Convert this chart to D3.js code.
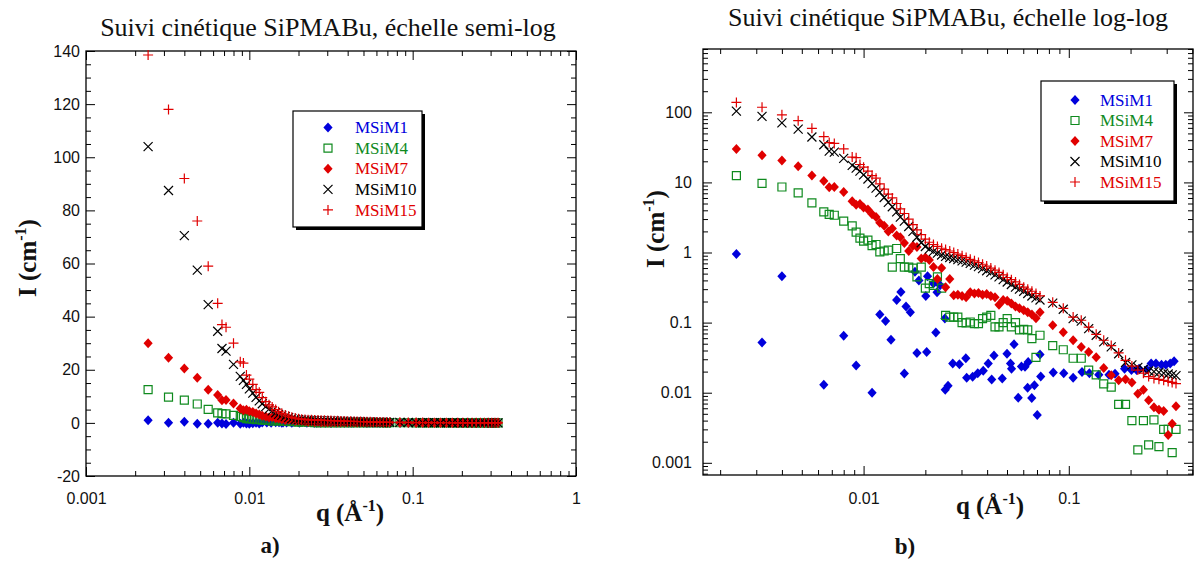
<!DOCTYPE html>
<html>
<head>
<meta charset="utf-8">
<script src="https://cdn.jsdelivr.net/npm/d3@7"></script>
<style>
  body { margin: 0; background: #fff; }
  svg { display: block; }
  .tick text { font-family: "Liberation Sans", Arial, sans-serif; font-size: 16px; fill: #111; }
</style>
</head>
<body>
<svg id="fig" width="1196" height="563"></svg>
<script>
// Scattering vector q (Å^-1) shared by MSiM4, MSiM7, MSiM10, MSiM15
const q = [0.0024, 0.0032, 0.0040, 0.0048, 0.0056, 0.0064, 0.0068, 0.0072, 0.0080, 0.0088, 0.0092,
  0.0096, 0.0100, 0.0105, 0.0110, 0.0115, 0.0120, 0.0126, 0.0132, 0.0138, 0.0145,
  0.0151, 0.0158, 0.0166, 0.0174, 0.0182, 0.0191, 0.0200, 0.0209, 0.0219, 0.0229,
  0.0240, 0.0251, 0.0263, 0.0275, 0.0288, 0.0302, 0.0316, 0.0331, 0.0347, 0.0363,
  0.0380, 0.0398, 0.0417, 0.0437, 0.0457, 0.0479, 0.0501, 0.0525, 0.0550, 0.0575,
  0.0603, 0.0631, 0.0661, 0.0692, 0.0724,
  0.0835, 0.094, 0.105, 0.115, 0.125, 0.136, 0.148, 0.161, 0.175, 0.189,
  0.203, 0.217, 0.231, 0.245, 0.260, 0.275, 0.290, 0.305, 0.319, 0.333];

// Intensities I (cm^-1)
const msim4 = [12.5, 9.7, 8.6, 7.1, 5.1, 3.8, 3.5, 3.4, 2.8, 2.4, 1.95,
  1.6, 1.45, 1.5, 1.25, 1.3, 1.02, 1.05, 1.08, 0.62, 1.14,
  0.82, 0.62, 0.62, 0.6, 0.45, 0.62, 0.31, 0.36, 0.34, 0.45,
  0.31, 0.127, 0.12, 0.12, 0.12, 0.10, 0.099, 0.102, 0.097, 0.097,
  0.114, 0.12, 0.127, 0.087, 0.087, 0.10, 0.114, 0.087, 0.10, 0.079,
  0.08, 0.079, 0.059, 0.032, 0.066,
  0.047, 0.041, 0.031, 0.031, 0.021, 0.018, 0.0134, 0.012, 0.0068, 0.0068,
  0.004, 0.00153, 0.004, 0.0018, 0.0041, 0.0017, 0.003, 0.003, 0.0014, 0.003];

const msim7 = [30, 24.5, 20.5, 17, 12.5, 10.5, 8.5, 8.6, 7.3, 5.4, 4.8,
  4.9, 4.4, 4.1, 3.5, 3.2, 2.65, 2.4, 2.0, 2.2, 1.75,
  1.65, 1.37, 1.05, 1.25, 1.2, 0.82, 0.85, 0.78, 0.62, 0.42,
  0.6, 0.32, 0.42, 0.245, 0.25, 0.24, 0.23, 0.27, 0.26, 0.265,
  0.25, 0.255, 0.24, 0.23, 0.18, 0.21, 0.205, 0.187, 0.17, 0.16,
  0.15, 0.14, 0.13, 0.115, 0.14,
  0.092, 0.073, 0.056, 0.045, 0.038, 0.032, 0.0225, 0.0177, 0.015, 0.0155,
  0.014, 0.0097, 0.011, 0.0078, 0.0062, 0.0057, 0.0055, 0.0025, 0.0036, 0.0064];

const msim10 = [104, 87.5, 70.5, 57.5, 44.5, 34.5, 28.0, 27.0, 22.0, 17.5, 16.0,
  14.5, 12.8, 11.2, 9.6, 8.3, 7.2, 6.1, 5.2, 4.5, 3.8,
  3.2, 2.8, 2.35, 2.0, 1.65, 1.38, 1.22, 1.12, 1.04, 0.98,
  0.92, 0.88, 0.85, 0.82, 0.79, 0.76, 0.73, 0.70, 0.66, 0.63,
  0.59, 0.55, 0.52, 0.48, 0.45, 0.41, 0.38, 0.35, 0.32, 0.30,
  0.28, 0.26, 0.24, 0.225, 0.21,
  0.19, 0.155, 0.114, 0.105, 0.082, 0.066, 0.053, 0.045, 0.036, 0.027,
  0.025, 0.023, 0.0215, 0.0205, 0.020, 0.0195, 0.019, 0.0185, 0.018, 0.0175];

const msim15 = [138.5, 118, 92, 76, 59, 45, 37, 36, 30, 23, 22.5,
  18, 16.5, 14.5, 12.5, 11.5, 9.5, 8.0, 6.8, 6.0, 5.0,
  4.2, 3.6, 3.0, 2.5, 2.1, 1.8, 1.55, 1.4, 1.3, 1.22,
  1.15, 1.1, 1.05, 1.0, 0.95, 0.9, 0.85, 0.8, 0.76, 0.72,
  0.68, 0.64, 0.6, 0.56, 0.52, 0.48, 0.44, 0.41, 0.38, 0.35,
  0.32, 0.30, 0.28, 0.26, 0.24,
  0.195, 0.16, 0.12, 0.108, 0.086, 0.068, 0.056, 0.047, 0.037, 0.029,
  0.024, 0.021, 0.019, 0.017, 0.016, 0.0155, 0.015, 0.0145, 0.014, 0.0135];

// MSiM1 has its own q list; non-positive intensities only appear on the semi-log plot
const qM1 = [0.0024, 0.0032, 0.0040, 0.0048, 0.0056, 0.0064, 0.0068, 0.0072, 0.0080, 0.0088,
  0.0092, 0.0096, 0.0100, 0.0105, 0.0110, 0.0115, 0.0120, 0.0128, 0.0136, 0.0145,
  0.0152, 0.0158, 0.0161, 0.0169, 0.0178, 0.0182, 0.0186, 0.0201, 0.0203, 0.0205,
  0.0219, 0.0225, 0.0228, 0.0236, 0.0249, 0.0250, 0.0258, 0.0272, 0.0293, 0.0315,
  0.0318, 0.0340, 0.0360, 0.0383, 0.0405, 0.0421, 0.0432, 0.0474, 0.0500, 0.0520,
  0.0526, 0.0541, 0.0567, 0.0588, 0.0612, 0.0630, 0.0634, 0.0660, 0.0680, 0.0702,
  0.0724, 0.0730, 0.0840, 0.0945, 0.105, 0.116, 0.126, 0.140, 0.157, 0.168,
  0.187, 0.202, 0.214, 0.220, 0.240, 0.252, 0.266, 0.283, 0.297, 0.312, 0.326];
const msim1 = [0.95, 0.052, 0.46, -0.3, -0.35, 0.013, -0.2, -0.4, 0.065, -0.3,
  0.0245, -0.25, -0.3, -0.15, 0.010, -0.2, 0.13, 0.105, 0.057, 0.21,
  0.274, 0.0188, 0.17, 0.14, 0.53, 0.037, 0.40, 0.24, 0.038, 0.46,
  0.36, 0.072, 0.27, 0.34, 0.114, 0.011, 0.0126, 0.026, 0.0254, 0.031,
  0.0163, 0.0169, 0.019, 0.0205, 0.026, 0.0154, 0.034, 0.0159, 0.036, 0.026,
  0.022, 0.049, 0.0085, 0.0237, 0.0234, 0.0118, 0.0274, 0.0084, 0.0128, 0.0048,
  0.035, 0.017, 0.0195, 0.019, 0.0164, 0.0197, 0.019, 0.018, 0.018, 0.0186,
  0.0219, 0.021, 0.021, 0.022, 0.0214, 0.026, 0.026, 0.025, 0.025, 0.026, 0.028];

const seriesNames = ["MSiM1", "MSiM4", "MSiM7", "MSiM10", "MSiM15"];
const seriesColors = ["#0000dc", "#0f8a1e", "#e00000", "#000000", "#e00000"];
const seriesShapes = ["diamond", "square", "diamond", "cross", "plus"];

const semiXTicks = [0.001, 0.01, 0.1, 1];
const semiYTicks = [-20, 0, 20, 40, 60, 80, 100, 120, 140];
const logXTicks = [0.01, 0.1];
const logYTicks = [0.001, 0.01, 0.1, 1, 10, 100];

const series = [
  { q: qM1, I: msim1 },
  { q: q, I: msim4 },
  { q: q, I: msim7 },
  { q: q, I: msim10 },
  { q: q, I: msim15 }
].map((s, k) => ({
  name: seriesNames[k], color: seriesColors[k], shape: seriesShapes[k],
  points: s.q.map((v, i) => ({ q: v, I: s.I[i] }))
}));

const svg = d3.select("#fig");

function markerPath(shape) {
  switch (shape) {
    case "diamond": return "M0,-5L4.6,0L0,5L-4.6,0Z";
    case "square": return "M-4,-4H4V4H-4Z";
    case "cross": return "M-4.5,-4.5L4.5,4.5M-4.5,4.5L4.5,-4.5";
    default: return "M-5,0H5M0,-5V5";
  }
}

function styleMarker(sel, s) {
  if (s.shape === "diamond") sel.attr("fill", s.color).attr("stroke", "none");
  else sel.attr("fill", "none").attr("stroke", s.color).attr("stroke-width", 1.2);
}

// Log-axis minor tick values (2..9 per decade) inside a domain
function minorLog(lo, hi) {
  const out = [];
  for (let e = Math.floor(Math.log10(lo)); e <= Math.ceil(Math.log10(hi)); e++) {
    for (let m = 2; m <= 9; m++) {
      const v = m * Math.pow(10, e);
      if (v >= lo * 0.999 && v <= hi * 1.001) out.push(v);
    }
  }
  return out;
}

function cleanAxis(g) {
  g.select(".domain").remove();
  g.selectAll(".tick line").attr("stroke", "#000").attr("stroke-width", 1);
}

function drawPanel(p) {
  const { x, y } = p;
  const [x0, x1] = x.range();
  const [y0, y1] = y.range();
  const g = svg.append("g");

  // bottom axis with labels, top axis mirrored
  g.append("g").attr("transform", `translate(0,${y0})`)
    .call(d3.axisBottom(x).tickValues(p.xMajor).tickSize(-9).tickPadding(p.xPad).tickFormat(d => String(d)))
    .call(cleanAxis);
  g.append("g").attr("transform", `translate(0,${y0})`)
    .call(d3.axisBottom(x).tickValues(p.xMinor).tickSize(-5).tickFormat(""))
    .call(cleanAxis);
  g.append("g").attr("transform", `translate(0,${y1})`)
    .call(d3.axisTop(x).tickValues(p.xMajorAll).tickSize(-9).tickFormat(""))
    .call(cleanAxis);
  g.append("g").attr("transform", `translate(0,${y1})`)
    .call(d3.axisTop(x).tickValues(p.xMinor).tickSize(-5).tickFormat(""))
    .call(cleanAxis);

  // left axis with labels, right axis mirrored
  g.append("g").attr("transform", `translate(${x0},0)`)
    .call(d3.axisLeft(y).tickValues(p.yMajor).tickSize(-9).tickPadding(p.yPad).tickFormat(d => String(d)))
    .call(cleanAxis);
  g.append("g").attr("transform", `translate(${x0},0)`)
    .call(d3.axisLeft(y).tickValues(p.yMinor).tickSize(-5).tickFormat(""))
    .call(cleanAxis);
  g.append("g").attr("transform", `translate(${x1},0)`)
    .call(d3.axisRight(y).tickValues(p.yMajor).tickSize(-9).tickFormat(""))
    .call(cleanAxis);
  g.append("g").attr("transform", `translate(${x1},0)`)
    .call(d3.axisRight(y).tickValues(p.yMinor).tickSize(-5).tickFormat(""))
    .call(cleanAxis);

  g.append("rect")
    .attr("x", x0).attr("y", y1).attr("width", x1 - x0).attr("height", y0 - y1)
    .attr("fill", "none").attr("stroke", "#000").attr("stroke-width", 1.3);

  // data markers
  series.forEach(s => {
    const pts = s.points.filter(d => p.keep(d));
    const m = g.append("g").selectAll("path").data(pts).join("path")
      .attr("d", markerPath(s.shape))
      .attr("transform", d => `translate(${x(d.q)},${y(d.I)})`);
    styleMarker(m, s);
  });

  // legend with drop shadow
  const L = p.legend;
  const lg = g.append("g");
  lg.append("rect").attr("x", L.x + 3).attr("y", L.y + 3).attr("width", L.w).attr("height", L.h).attr("fill", "#000");
  lg.append("rect").attr("x", L.x).attr("y", L.y).attr("width", L.w).attr("height", L.h)
    .attr("fill", "#fff").attr("stroke", "#000").attr("stroke-width", 1.2);
  series.forEach((s, i) => {
    const ry = L.row0 + i * L.step;
    const m = lg.append("path").attr("d", markerPath(s.shape)).attr("transform", `translate(${L.mx},${ry})`);
    styleMarker(m, s);
    lg.append("text").attr("x", L.tx).attr("y", ry).attr("dy", "0.34em")
      .attr("font-family", "'Liberation Serif', 'Times New Roman', serif")
      .attr("font-size", 17).attr("fill", s.color).text(s.name);
  });

  // titles
  g.append("text").attr("x", p.title.x).attr("y", p.title.y).attr("text-anchor", "middle")
    .attr("font-family", "'Liberation Serif', 'Times New Roman', serif").attr("font-size", 26)
    .attr("fill", "#111").text(p.title.text);

  const xl = g.append("text").attr("x", p.xTitle.x).attr("y", p.xTitle.y).attr("text-anchor", "middle")
    .attr("font-family", "'Liberation Serif', 'Times New Roman', serif").attr("font-size", 25)
    .attr("font-weight", "bold").attr("fill", "#111");
  xl.append("tspan").text("q (Å");
  xl.append("tspan").attr("dy", -10).attr("font-size", 16).text("-1");
  xl.append("tspan").attr("dy", 10).text(")");

  const yl = g.append("text").attr("transform", `translate(${p.yTitle.x},${p.yTitle.y}) rotate(-90)`)
    .attr("text-anchor", "middle")
    .attr("font-family", "'Liberation Serif', 'Times New Roman', serif").attr("font-size", 25)
    .attr("font-weight", "bold").attr("fill", "#111");
  yl.append("tspan").text("I (cm");
  yl.append("tspan").attr("dy", -10).attr("font-size", 16).text("-1");
  yl.append("tspan").attr("dy", 10).text(")");

  g.append("text").attr("x", p.tag.x).attr("y", p.tag.y).attr("text-anchor", "middle")
    .attr("font-family", "'Liberation Serif', 'Times New Roman', serif").attr("font-size", 23)
    .attr("font-weight", "bold").attr("fill", "#111").text(p.tag.text);
}

// a) semi-log panel
const semiX = d3.scaleLog().domain([0.001, 1]).range([86, 576]);
const semiY = d3.scaleLinear().domain([-20, 140]).range([476, 51]);
drawPanel({
  x: semiX, y: semiY,
  xMajor: semiXTicks, xMajorAll: semiXTicks, xMinor: minorLog(0.001, 1), xPad: 17,
  yMajor: semiYTicks, yMinor: d3.range(-20, 141, 5).filter(v => v % 20 !== 0), yPad: 6,
  keep: d => true,
  legend: { x: 293, y: 111, w: 129, h: 116, mx: 328, tx: 355, row0: 127.5, step: 20.6 },
  title: { x: 328, y: 36, text: "Suivi cinétique SiPMABu, échelle semi-log" },
  xTitle: { x: 350, y: 521 },
  yTitle: { x: 36, y: 258 },
  tag: { x: 270, y: 553, text: "a)" }
});

// b) log-log panel
const logX = d3.scaleLog().domain([0.00165, 0.403]).range([703, 1193]);
const logY = d3.scaleLog().domain([0.00067, 800]).range([475, 49]);
drawPanel({
  x: logX, y: logY,
  xMajor: logXTicks, xMajorAll: logXTicks, xMinor: minorLog(0.00165, 0.403).filter(v => !logXTicks.includes(v)), xPad: 18,
  yMajor: logYTicks, yMinor: minorLog(0.00067, 800), yPad: 11,
  keep: d => d.I > 0,
  legend: { x: 1041, y: 81, w: 133, h: 120, mx: 1075, tx: 1100, row0: 100, step: 20.5 },
  title: { x: 948, y: 26, text: "Suivi cinétique SiPMABu, échelle log-log" },
  xTitle: { x: 990, y: 514 },
  yTitle: { x: 664, y: 229 },
  tag: { x: 905, y: 554, text: "b)" }
});
</script>
</body>
</html>
